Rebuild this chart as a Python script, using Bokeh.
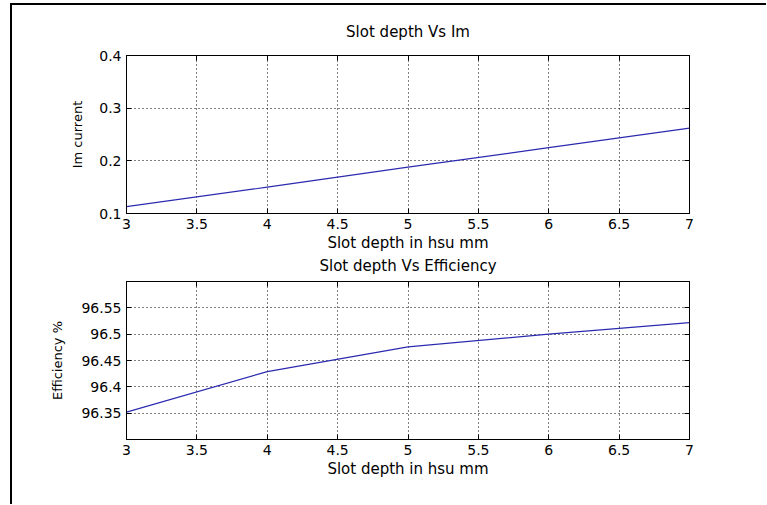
from bokeh.plotting import figure
from bokeh.layouts import column
from bokeh.models import Range1d, FixedTicker, LinearAxis, Title
from bokeh.embed import file_html
from bokeh.resources import INLINE

# ---- data ----
slot_depth = [3, 4, 5, 6, 7]
im_current = [0.113, 0.150, 0.188, 0.225, 0.262]
efficiency = [96.352, 96.429, 96.476, 96.500, 96.522]

x_ticks = [3, 3.5, 4, 4.5, 5, 5.5, 6, 6.5, 7]
x_tick_labels = ["3", "3.5", "4", "4.5", "5", "5.5", "6", "6.5", "7"]
im_ticks = [0.1, 0.2, 0.3, 0.4]
im_tick_labels = ["0.1", "0.2", "0.3", "0.4"]
eff_ticks = [96.35, 96.4, 96.45, 96.5, 96.55]
eff_tick_labels = ["96.35", "96.4", "96.45", "96.5", "96.55"]

title_top = "Slot depth Vs Im"
title_bottom = "Slot depth Vs Efficiency"
xlabel = "Slot depth in hsu mm"
ylabel_top = "Im current"
ylabel_bottom = "Efficiency %"

FONT = "DejaVu Sans"
LINE_COLOR = "#2b2bb0"


def style_title(t, standoff):
    t.align = "center"
    t.text_font = FONT
    t.text_font_size = "15px"
    t.text_font_style = "normal"
    t.text_color = "black"
    t.standoff = standoff


def make_panel(y, yrange, yticks, ylabels, ylab, height, top, bottom, ylab_standoff):
    p = figure(width=754, height=height, output_backend="svg", toolbar_location=None,
               x_range=Range1d(3, 7), y_range=Range1d(*yrange),
               min_border_left=114, min_border_right=77,
               min_border_top=top, min_border_bottom=bottom,
               background_fill_color="white", border_fill_color="white")

    p.line(slot_depth, y, line_color=LINE_COLOR, line_width=1.2)

    xa = p.xaxis[0]
    ya = p.yaxis[0]
    xa.ticker = FixedTicker(ticks=x_ticks)
    xa.major_label_overrides = dict(zip(x_ticks, x_tick_labels))
    ya.ticker = FixedTicker(ticks=yticks)
    ya.major_label_overrides = dict(zip(yticks, ylabels))
    xa.axis_label = xlabel
    ya.axis_label = ylab
    ya.axis_label_standoff = ylab_standoff
    xa.axis_label_standoff = 2
    for ax, lab_size in ((xa, "15px"), (ya, "13px")):
        ax.axis_label_text_font = FONT
        ax.axis_label_text_font_size = lab_size
        ax.axis_label_text_font_style = "normal"
        ax.axis_label_text_color = "black"
        ax.major_label_text_font = FONT
        ax.major_label_text_font_size = "14px"
        ax.major_label_text_color = "black"
        ax.major_tick_in = 5
        ax.major_tick_out = 0
        ax.minor_tick_in = 0
        ax.minor_tick_out = 0
        ax.axis_line_color = "black"
        ax.major_tick_line_color = "black"
    ya.major_label_standoff = 5
    xa.major_label_standoff = 5

    # box ticks on top and right (no labels drawn)
    top_ax = LinearAxis(ticker=FixedTicker(ticks=x_ticks))
    right_ax = LinearAxis(ticker=FixedTicker(ticks=yticks))
    for ax in (top_ax, right_ax):
        ax.major_label_text_font_size = "1px"
        ax.major_label_text_color = None
        ax.major_label_standoff = 0
        ax.major_tick_in = 5
        ax.major_tick_out = 0
        ax.minor_tick_in = 0
        ax.minor_tick_out = 0
        ax.axis_line_color = "black"
        ax.major_tick_line_color = "black"
    p.add_layout(top_ax, "above")
    p.add_layout(right_ax, "right")

    for g in (p.xgrid[0], p.ygrid[0]):
        g.grid_line_color = "black"
        g.grid_line_dash = "1 3"
        g.grid_line_width = 1
    p.xgrid[0].ticker = FixedTicker(ticks=x_ticks)
    p.ygrid[0].ticker = FixedTicker(ticks=yticks)
    p.outline_line_color = "black"
    return p


p1 = make_panel(im_current, (0.1, 0.4), im_ticks, im_tick_labels, ylabel_top,
                height=270, top=49, bottom=62, ylab_standoff=11)
p1.title.text = title_top
style_title(p1.title, 30)
# title of the second subplot sits just under the first subplot's x label
t2 = Title(text=title_bottom)
style_title(t2, 0)
p1.add_layout(t2, "below")

p2 = make_panel(efficiency, (96.3, 96.6), eff_ticks, eff_tick_labels, ylabel_bottom,
                height=229, top=6, bottom=65, ylab_standoff=13)

layout = column(p1, p2, spacing=0,
                styles={"border-left": "2px solid black", "border-top": "2px solid black",
                        "margin-left": "10px", "margin-top": "3px"})

open("out.html", "w").write(file_html(layout, INLINE))
